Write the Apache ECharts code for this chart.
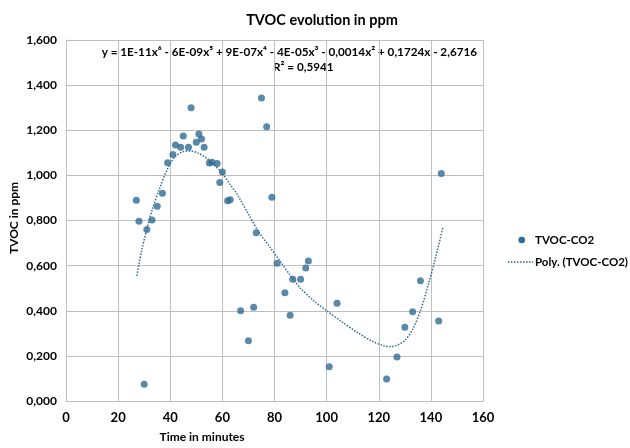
<!DOCTYPE html>
<html><head><meta charset="utf-8">
<script src="https://cdn.jsdelivr.net/npm/echarts@6/dist/echarts.min.js"></script>
<style>html,body{margin:0;padding:0;background:#fff}#c{width:630px;height:448px}</style>
</head><body><div id="c"></div>
<script>
// Measured points: time (minutes) and TVOC (ppm)
var timeMin = [27,28,30,31,33,35,37,39,41,42,44,45,47,48,50,51,52,53,55,56,58,59,60,62,63,67,70,72,73,75,77,79,81,84,86,87,90,92,93,101,104,123,127,130,133,136,143,144];
var tvoc = [0.890,0.797,0.074,0.760,0.802,0.863,0.921,1.056,1.093,1.135,1.125,1.175,1.125,1.300,1.147,1.183,1.161,1.125,1.055,1.058,1.053,0.968,1.015,0.887,0.892,0.400,0.267,0.415,0.746,1.343,1.215,0.903,0.610,0.480,0.380,0.540,0.540,0.590,0.620,0.152,0.433,0.098,0.195,0.327,0.396,0.533,0.355,1.008];
// Trendline
var trendX = [27.2,29,31,33,36,39,42,45,48,51,54,57,60,63,66,70,74,78,82,86,90,95,100,106,112,118,122,124.5,127,130,133,136,139,142,144.6];
var trendY = [0.555,0.665,0.760,0.845,0.945,1.030,1.085,1.105,1.108,1.097,1.076,1.045,1.008,0.960,0.910,0.828,0.748,0.686,0.622,0.558,0.500,0.445,0.400,0.350,0.302,0.262,0.245,0.241,0.247,0.268,0.318,0.400,0.515,0.645,0.770];
var seriesNames = ['TVOC-CO2','Poly. (TVOC-CO2)'];
var titleText = 'TVOC evolution in ppm';
var xName = 'Time in minutes';
var yName = 'TVOC in ppm';
var eqText = 'y = 1E-11x\u2076 - 6E-09x\u2075 + 9E-07x\u2074 - 4E-05x\u00b3 - 0,0014x\u00b2 + 0,1724x - 2,6716';
var r2Text = 'R\u00b2 = 0,5941';

var FONT = 'Lato';
var COL = '#2F6A94';
var chart = echarts.init(document.getElementById('c'), null, {renderer:'canvas'});
var pts = timeMin.map(function(x,i){return [x,tvoc[i]];});
var tr = trendX.map(function(x,i){return [x,trendY[i]];});
var gridColor = '#BFBFBF';
chart.setOption({
  animation:false,
  backgroundColor:'#fff',
  textStyle:{fontFamily:FONT},
  title:{text:titleText,left:317,textAlign:'center',top:8,textStyle:{fontFamily:FONT,fontWeight:'bold',fontSize:14.5,color:'#000'}},
  grid:{left:66,right:147,top:40,bottom:47,containLabel:false,outerBoundsMode:'none'},
  xAxis:{type:'value',min:0,max:160,interval:20,
    axisLine:{show:true,lineStyle:{color:gridColor}},axisTick:{show:false},
    axisLabel:{fontFamily:FONT,fontWeight:'bold',fontSize:13,color:'#000',margin:10},
    splitLine:{show:true,lineStyle:{color:gridColor,width:1}}},
  yAxis:{type:'value',min:0,max:1.6,interval:0.2,
    axisLine:{show:true,lineStyle:{color:gridColor}},axisTick:{show:false},
    axisLabel:{fontFamily:FONT,fontWeight:'bold',fontSize:12,color:'#000',margin:9,
      formatter:function(v){return v.toFixed(3).replace('.',',');}},
    splitLine:{show:true,lineStyle:{color:gridColor,width:1}}},
  series:[
    {name:seriesNames[0],type:'scatter',data:pts,symbolSize:7,itemStyle:{color:COL},z:3},
    {name:seriesNames[1],type:'line',data:tr,smooth:0.3,symbol:'none',showSymbol:false,
      lineStyle:{color:COL,width:1.5,type:[1.5,1.5]},itemStyle:{color:COL},z:2}
  ],
  graphic:[
    {type:'text',right:153,top:46,style:{text:eqText,font:'bold 11.7px '+FONT,fill:'#000',textAlign:'right'}},
    {type:'text',left:273,top:61,style:{text:r2Text,font:'bold 11.7px '+FONT,fill:'#000'}},
    {type:'text',x:202,y:437,style:{text:xName,font:'bold 12px '+FONT,fill:'#000',align:'center',verticalAlign:'middle'}},
    {type:'text',x:14,y:218,rotation:Math.PI/2,style:{text:yName,font:'bold 12px '+FONT,fill:'#000',align:'center',verticalAlign:'middle'}},
    {type:'circle',shape:{cx:521.7,cy:240,r:3.3},style:{fill:COL}},
    {type:'text',x:535,y:240,style:{text:seriesNames[0],font:'bold 11.5px '+FONT,fill:'#000',verticalAlign:'middle'}},
    {type:'line',shape:{x1:508,y1:262,x2:533,y2:262},style:{stroke:COL,lineWidth:1.5,lineDash:[1.5,1.5]}},
    {type:'text',x:535,y:262,style:{text:seriesNames[1],font:'bold 11.5px '+FONT,fill:'#000',verticalAlign:'middle'}}
  ]
});
</script></body></html>
